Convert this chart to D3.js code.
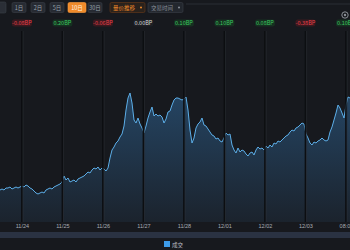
<!DOCTYPE html>
<html><head><meta charset="utf-8">
<script src="https://cdn.jsdelivr.net/npm/d3@7"></script>
<style>html,body{margin:0;padding:0;background:#17191e;overflow:hidden}</style>
</head><body>
<script>
const rangeButtons = ["1日","2日","5日","10日","30日"];
const activeButton = "10日";
const dropdowns = ["量价推移","交易时间"];
const dayLabels = ["11/24","11/25","11/26","11/27","11/28","12/01","12/02","12/03","08:00"];
const dayChanges = ["-0.08BP","0.20BP","-0.06BP","0.00BP","0.10BP","0.10BP","0.08BP","-0.38BP","0.10BP"];
const seriesName = "成交";
const timeStart = -0.54, timeEnd = 8.1;
const volume = [28,29,28,30,30,31,29,30,31,30,31,32,31,33,32,30,29,27,25,24,25,26,25,28,29,30,29,31,32,33,34,36,42,38,40,36,37,38,36,39,40,41,42,44,46,45,48,50,49,51,48,50,49,47,50,60,68,71,75,77,81,84,92,108,120,125,115,98,95,100,94,90,85,92,100,106,111,102,104,102,103,101,95,99,106,107,113,118,120,120,119,118,119,121,108,88,75,80,90,94,96,100,93,92,89,86,83,82,79,80,77,76,80,85,83,84,73,68,65,70,66,68,67,64,62,65,66,63,68,71,69,70,68,72,70,73,71,75,74,77,76,78,80,82,83,86,88,87,90,91,93,95,94,84,80,75,73,76,75,77,78,80,78,77,78,86,91,98,105,113,110,105,100,113,121,120];

const W = 350, H = 250;
const svg = d3.select("body").append("svg").attr("width", W).attr("height", H)
  .style("font-family", "'Noto Sans CJK SC','Noto Sans',sans-serif");

svg.append("rect").attr("width", W).attr("height", H).attr("fill", "#17191e");

// toolbar
svg.append("rect").attr("x", -4).attr("y", 2).attr("width", 10).attr("height", 11).attr("rx", 1.5)
  .attr("fill", "#2a2e36").attr("stroke", "#3a3f48").attr("stroke-width", 0.6);
const bx = [12, 31, 50, 68, 88], bw = [14, 14, 14, 18, 14];
rangeButtons.forEach((b, i) => {
  const act = b === activeButton;
  svg.append("rect").attr("x", bx[i]).attr("y", 2.5).attr("width", bw[i]).attr("height", 10).attr("rx", 1.5)
    .attr("fill", act ? "#f08a2a" : "#272b33").attr("stroke", act ? "#ffa040" : "#3a3f48").attr("stroke-width", 0.6);
  svg.append("text").attr("x", bx[i] + bw[i] / 2).attr("y", 10).attr("text-anchor", "middle")
    .attr("font-size", 5.5).attr("fill", act ? "#fff3e0" : "#9aa0aa").text(b);
});
const dx = [110, 148], dw = [35, 35];
dropdowns.forEach((d, i) => {
  svg.append("rect").attr("x", dx[i]).attr("y", 2.5).attr("width", dw[i]).attr("height", 10).attr("rx", 1.5)
    .attr("fill", i === 0 ? "#2a221c" : "#23272e").attr("stroke", i === 0 ? "#6a3a1a" : "#3a3f48").attr("stroke-width", 0.6);
  svg.append("text").attr("x", dx[i] + 3).attr("y", 10).attr("font-size", 5.5)
    .attr("fill", i === 0 ? "#f08a2a" : "#8a909a").text(d);
  svg.append("circle").attr("cx", dx[i] + dw[i] - 4).attr("cy", 7.5).attr("r", 1)
    .attr("fill", i === 0 ? "#f08a2a" : "#8a909a");
});
svg.append("line").attr("x1", 186).attr("x2", W).attr("y1", 4).attr("y2", 4).attr("stroke", "#2a2e35").attr("stroke-width", 1);
svg.append("circle").attr("cx", 345).attr("cy", 15).attr("r", 3.2).attr("fill", "none").attr("stroke", "#8a8f96").attr("stroke-width", 1);
svg.append("circle").attr("cx", 345).attr("cy", 15).attr("r", 1.2).attr("fill", "#8a8f96");

// scales
const plotTop = 78, plotBottom = 218;
const x = d3.scaleLinear().domain([timeStart, timeEnd]).range([0, W]);
const y = d3.scaleLinear().domain([0, 140]).range([plotBottom, plotTop]);
const step = (timeEnd - timeStart) / (volume.length - 1);
const pts = volume.map((v, i) => ({t: timeStart + i * step, v}));

const defs = svg.append("defs");
const g = defs.append("linearGradient").attr("id", "fillG").attr("gradientUnits", "userSpaceOnUse")
  .attr("x1", 0).attr("x2", 0).attr("y1", plotTop).attr("y2", plotBottom + 4);
g.append("stop").attr("offset", "0%").attr("stop-color", "#26496a");
g.append("stop").attr("offset", "100%").attr("stop-color", "#1b232d");

svg.append("path").datum(pts)
  .attr("d", d3.area().x(d => x(d.t)).y0(y(0) + 4).y1(d => y(d.v)))
  .attr("fill", "url(#fillG)");
svg.append("path").datum(pts)
  .attr("d", d3.line().x(d => x(d.t)).y(d => y(d.v)))
  .attr("fill", "none").attr("stroke", "#5caee8").attr("stroke-width", 1);

// day separators
const days = d3.range(dayLabels.length);
svg.selectAll(".sep").data(days).join("line")
  .attr("x1", d => x(d)).attr("x2", d => x(d)).attr("y1", 31).attr("y2", 222)
  .attr("stroke", "#0c0e11").attr("stroke-width", 1.6);
svg.selectAll(".sepe").data(days).join("line")
  .attr("x1", d => x(d) + 1.2).attr("x2", d => x(d) + 1.2).attr("y1", 31).attr("y2", 222)
  .attr("stroke", "#30343b").attr("stroke-width", 0.5);

// change labels
days.forEach(d => {
  const s = dayChanges[d];
  const col = s.startsWith("-") ? "#e8404a" : (parseFloat(s) === 0 ? "#d8d8d8" : "#3cc860");
  const bg = s.startsWith("-") ? "#4a1a20" : (parseFloat(s) === 0 ? "#222428" : "#173a22");
  svg.append("rect").attr("x", x(d) - 10).attr("y", 19.5).attr("width", 20).attr("height", 7).attr("rx", 2.5)
    .attr("fill", bg).attr("opacity", 0.7);
  svg.append("text").attr("x", x(d)).attr("y", 25).attr("text-anchor", "middle")
    .attr("font-size", 5.5).attr("fill", col).text(s);
});

// x axis
const axis = d3.axisBottom(x).tickValues(days).tickFormat(d => dayLabels[d]).tickSize(0).tickPadding(0);
const ax = svg.append("g").attr("transform", "translate(0,221)").call(axis);
ax.select(".domain").remove();
ax.selectAll("text").attr("font-size", 5.5).attr("fill", "#a8adb5").attr("dy", "0.71em").attr("y", 3);

// bottom band + legend
svg.append("rect").attr("x", 0).attr("y", 232).attr("width", W).attr("height", 6).attr("fill", "#2a3242");
svg.append("rect").attr("x", 164).attr("y", 241).attr("width", 6).attr("height", 6).attr("fill", "#3d9be9");
svg.append("text").attr("x", 172).attr("y", 246.5).attr("font-size", 5.5).attr("fill", "#b8bcc4").text(seriesName);
</script>
</body></html>
